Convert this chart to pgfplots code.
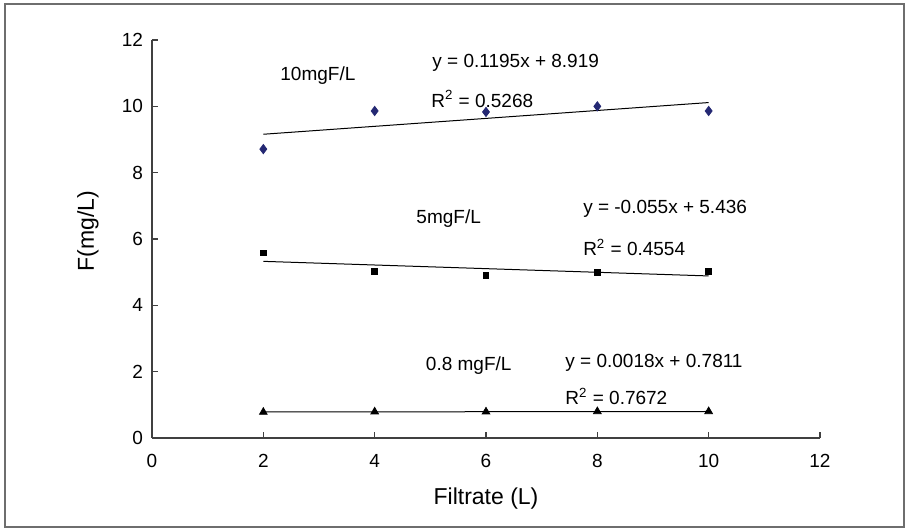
\documentclass[border=0pt]{standalone}
\usepackage{fontspec}
\setmainfont{Liberation Sans}
\usepackage{pgfplots}
\pgfplotsset{compat=1.18}
\definecolor{navy}{RGB}{36,40,115}
\definecolor{framegray}{RGB}{110,110,110}

\begin{document}
\begin{tikzpicture}
% page = 906x529 px at 0.5pt per px, axis origin at px (152,438)
\useasboundingbox (-76pt,-45.5pt) rectangle (377pt,219pt);
\draw[framegray, line width=0.8pt] (-73.5pt,-44.5pt) rectangle (376pt,217pt);
\begin{axis}[
    at={(0,0)}, anchor=origin,
    scale only axis,
    width=334pt, height=199pt,
    xmin=0, xmax=12, ymin=0, ymax=12,
    xtick={0,2,...,12}, ytick={0,2,...,12},
    axis x line*=bottom, axis y line*=left,
    axis line style={-, black!75, line width=0.6pt},
    tick align=inside, major tick length=3pt,
    tick style={black!75, line width=0.6pt},
    /pgf/number format/assume math mode=true,
    ticklabel style={font=\fontsize{9.5}{11}\selectfont},
    yticklabel style={xshift=-1pt},
    xticklabel style={yshift=-4.5pt},
    label style={font=\fontsize{11.5}{13}\selectfont},
    xlabel={Filtrate (L)},
    ylabel={F(mg/L)},
    xlabel style={at={(axis description cs:0.5,-0.151)}, anchor=center},
    ylabel style={at={(axis description cs:-0.096,0.52)}, anchor=center},
    clip=false,
]
% 10 mgF/L
\addplot[only marks, mark=diamond*, mark size=2.3pt, navy] coordinates {
    (2,8.71) (4,9.86) (6,9.83) (8,10.00) (10,9.86)};
\addplot[black, line width=0.5pt] coordinates {(2,9.158) (10,10.114)};
% 5 mgF/L
\addplot[only marks, mark=square*, mark size=1.4pt, black] coordinates {
    (2,5.58) (4,5.03) (6,4.91) (8,5.00) (10,5.03)};
\addplot[black, line width=0.5pt] coordinates {(2,5.326) (10,4.886)};
% 0.8 mgF/L
\addplot[only marks, mark=triangle*, mark size=2.2pt, black] coordinates {
    (2,0.78) (4,0.79) (6,0.79) (8,0.80) (10,0.80)};
\addplot[black, line width=0.5pt] coordinates {(2,0.785) (10,0.799)};

\begin{scope}[every node/.style={font=\fontsize{9.5}{11}\selectfont, inner sep=0pt}]
\node at (axis cs:2.98,10.94) {10mgF/L};
\node[anchor=west] at (axis cs:5.03,11.30) {y = 0.1195x + 8.919};
\node[anchor=west] at (axis cs:5.01,10.22) {R\textsuperscript{2} = 0.5268};
\node at (axis cs:5.33,6.63) {5mgF/L};
\node[anchor=west] at (axis cs:7.74,6.92) {y = -0.055x + 5.436};
\node[anchor=west] at (axis cs:7.74,5.75) {R\textsuperscript{2} = 0.4554};
\node at (axis cs:5.69,2.17) {0.8 mgF/L};
\node[anchor=west] at (axis cs:7.42,2.27) {y = 0.0018x + 0.7811};
\node[anchor=west] at (axis cs:7.42,1.25) {R\textsuperscript{2} = 0.7672};
\end{scope}
\end{axis}
\end{tikzpicture}
\end{document}
